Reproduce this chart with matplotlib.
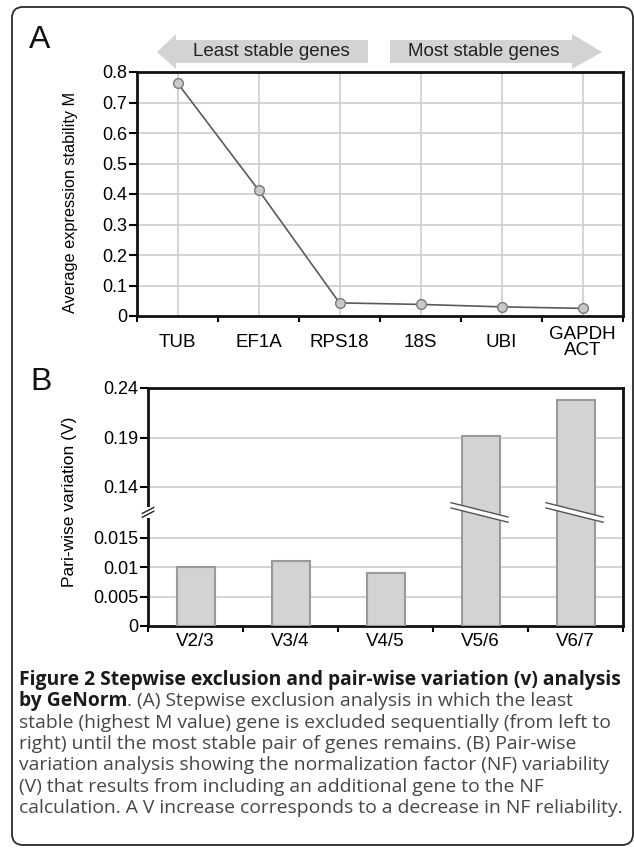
import numpy as np
import matplotlib
matplotlib.use("Agg")
import matplotlib.pyplot as plt
from matplotlib.patches import FancyBboxPatch, Polygon, Rectangle
import matplotlib.transforms as mtransforms

# panel A data
genes = ["TUB", "EF1A", "RPS18", "18S", "UBI", "GAPDH\nACT"]
m_values = [0.764, 0.413, 0.043, 0.038, 0.030, 0.025]
m_ticks = [0, 0.1, 0.2, 0.3, 0.4, 0.5, 0.6, 0.7, 0.8]
m_ticklabels = ["0", "0.1", "0.2", "0.3", "0.4", "0.5", "0.6", "0.7", "0.8"]

# panel B data
pairs = ["V2/3", "V3/4", "V4/5", "V5/6", "V6/7"]
v_values = [0.0100, 0.0110, 0.0090, 0.192, 0.228]
v_ticks = [0, 0.005, 0.01, 0.015, 0.14, 0.19, 0.24]
v_ticklabels = ["0", "0.005", "0.01", "0.015", "0.14", "0.19", "0.24"]
broken_bars = [3, 4]

caption_lines = [
    ("Figure 2 Stepwise exclusion and pair-wise variation (v) analysis", ""),
    ("by GeNorm", ". (A) Stepwise exclusion analysis in which the least"),
    ("", "stable (highest M value) gene is excluded sequentially (from left to"),
    ("", "right) until the most stable pair of genes remains. (B) Pair-wise"),
    ("", "variation analysis showing the normalization factor (NF) variability"),
    ("", "(V) that results from including an additional gene to the NF"),
    ("", "calculation. A V increase corresponds to a decrease in NF reliability."),
]

W, H = 634, 852
plt.rcParams['font.family'] = ['Liberation Sans', 'DejaVu Sans']

fig = plt.figure(figsize=(W / 100, H / 100), dpi=100)

# overlay axes in pixel units for border, arrows, panel letters, caption
bg = fig.add_axes([0, 0, 1, 1])
bg.set_xlim(0, W)
bg.set_ylim(H, 0)
bg.axis("off")

border = FancyBboxPatch((12, 7), 621, 838, boxstyle="round,pad=0,rounding_size=11",
                        fc="none", ec="#2a2a2a", lw=1.3)
bg.add_patch(border)

arrow_col = "#d3d3d3"
left_arrow = [(157, 52), (176, 34), (176, 40), (368, 40), (368, 63), (176, 63), (176, 69)]
right_arrow = [(602, 52), (572, 34), (572, 40), (390, 40), (390, 63), (572, 63), (572, 69)]
bg.add_patch(Polygon(left_arrow, closed=True, fc=arrow_col, ec="none"))
bg.add_patch(Polygon(right_arrow, closed=True, fc=arrow_col, ec="none"))
bg.text(271, 52, "Least stable genes", ha="center", va="center", fontsize=13.5, color="#222222")
bg.text(484, 52, "Most stable genes", ha="center", va="center", fontsize=13.5, color="#222222")

bg.text(29, 39.5, "A", ha="left", va="center", fontsize=23, color="#111111")
bg.text(30, 382, "B", ha="left", va="center", fontsize=23, color="#111111")

cap_font = ['Open Sans', 'DejaVu Sans']
cap_size = 13.85
cap_y0, cap_dy = 680, 21.3
for i, (bold_part, reg_part) in enumerate(caption_lines):
    y = cap_y0 + i * cap_dy
    if bold_part:
        t = bg.text(19, y, bold_part, ha="left", va="center", fontsize=cap_size,
                    fontweight="bold", family=cap_font, color="#1a1a1a")
        if reg_part:
            bg.annotate(reg_part, xy=(1, 0.5), xycoords=t, ha="left", va="center",
                        fontsize=cap_size, family=cap_font, color="#474747")
    else:
        bg.text(19, y, reg_part, ha="left", va="center", fontsize=cap_size,
                family=cap_font, color="#474747")


def px_axes(left, top, right, bottom):
    return fig.add_axes([left / W, 1 - bottom / H, (right - left) / W, (bottom - top) / H])


grid_col = "#cdcdcd"

# ---------------- panel A ----------------
axA = px_axes(137, 72, 623, 316)
xa = np.arange(len(genes))
axA.plot(xa, m_values, color="#5a5a5a", lw=1.2, marker="o", ms=7,
         mfc="#c9c9c9", mec="#7a7a7a", mew=1.0, zorder=3)
axA.set_xlim(-0.5, len(genes) - 0.5)
axA.set_ylim(0, 0.8)
axA.set_yticks(m_ticks)
axA.set_yticklabels(m_ticklabels, fontsize=13)
axA.set_xticks(np.arange(len(genes) + 1) - 0.5)
axA.set_xticklabels([])
axA.set_xticks(xa, minor=True)
axA.set_xticklabels(genes, minor=True, fontsize=13.5)
for lab in axA.get_xticklabels(minor=True):
    lab.set_va("center")
    lab.set_linespacing(0.95)
axA.tick_params(axis="x", which="minor", length=0, pad=19)
axA.tick_params(axis="x", which="major", length=4, width=1.5, direction="out")
axA.tick_params(axis="y", which="major", length=6, width=1.5, direction="out", pad=1)
for x in xa:
    axA.axvline(x, color=grid_col, lw=1.2, zorder=1)
for y in m_ticks[1:-1]:
    axA.axhline(y, color=grid_col, lw=1.2, zorder=1)
for s in axA.spines.values():
    s.set_linewidth(2)
    s.set_color("#111111")
axA.set_ylabel("Average expression stability M", fontsize=11.7)
axA.yaxis.set_label_coords(-0.121, 0.465)

# ---------------- panel B ----------------
# piecewise linear (broken) scale: lower part 0-0.019, upper part 0.115-0.24
lo, hi = 0.019, 0.115
k_lo, k_hi = 5867.0, 990.0
xp = np.array([-1.0, 0.0, lo, hi, 1.0])
fp = np.array([-k_lo, 0.0, lo * k_lo, 139 + (hi - 0.14) * k_hi, 139 + (1.0 - 0.14) * k_hi])


def fwd(v):
    return np.interp(v, xp, fp)


def inv(y):
    return np.interp(y, fp, xp)


axB = px_axes(148, 388, 623, 626)
axB.set_yscale("function", functions=(fwd, inv))
xb = np.arange(len(pairs))
axB.bar(xb, v_values, width=0.4, color="#d1d3d4", edgecolor="#9a9a9a", lw=1.5, zorder=3)
axB.set_xlim(-0.5, len(pairs) - 0.5)
axB.set_ylim(0, 0.24)
axB.set_yticks(v_ticks)
axB.set_yticklabels(v_ticklabels, fontsize=13)
axB.yaxis.set_minor_locator(matplotlib.ticker.NullLocator())
axB.set_xticks(np.arange(len(pairs) + 1) - 0.5)
axB.set_xticklabels([])
axB.set_xticks(xb, minor=True)
axB.set_xticklabels(pairs, minor=True, fontsize=13.5)
axB.tick_params(axis="x", which="minor", length=0, pad=5)
axB.tick_params(axis="x", which="major", length=4, width=1.5, direction="out")
axB.tick_params(axis="y", which="major", length=6, width=1.5, direction="out", pad=1)
for y in v_ticks[1:-1]:
    axB.axhline(y, color=grid_col, lw=1.2, zorder=1)
for s in axB.spines.values():
    s.set_linewidth(2)
    s.set_color("#111111")
axB.set_ylabel("Pari-wise variation (V)", fontsize=12.5)
axB.yaxis.set_label_coords(-0.149, 0.52)

# break marks across the tall bars (x in data, y in axes fraction)
trans = mtransforms.blended_transform_factory(axB.transData, axB.transAxes)
yc, dy, gap = 0.477, 0.03, 0.011
for i in broken_bars:
    x0, x1 = i - 0.31, i + 0.29
    band = Polygon([(x0, yc + dy + gap), (x1, yc - dy + gap), (x1, yc - dy - gap), (x0, yc + dy - gap)],
                   closed=True, transform=trans, fc="white", ec="none", zorder=4, clip_on=False)
    axB.add_patch(band)
    for sgn in (1, -1):
        axB.plot([x0, x1], [yc + dy + sgn * gap, yc - dy + sgn * gap], transform=trans,
                 color="#555555", lw=1.0, zorder=5, clip_on=False)

# break mark on the left spine
ytr = mtransforms.blended_transform_factory(axB.transAxes, axB.transAxes)
axB.add_patch(Rectangle((-0.01, 0.452), 0.02, 0.05, transform=ytr, fc="white", ec="none",
                        zorder=6, clip_on=False))
for off in (-0.008, 0.008):
    axB.plot([-0.012, 0.012], [0.465 + off, 0.49 + off], transform=ytr, color="#222222",
             lw=1.0, zorder=7, clip_on=False)

fig.savefig("out.png", dpi=100)
